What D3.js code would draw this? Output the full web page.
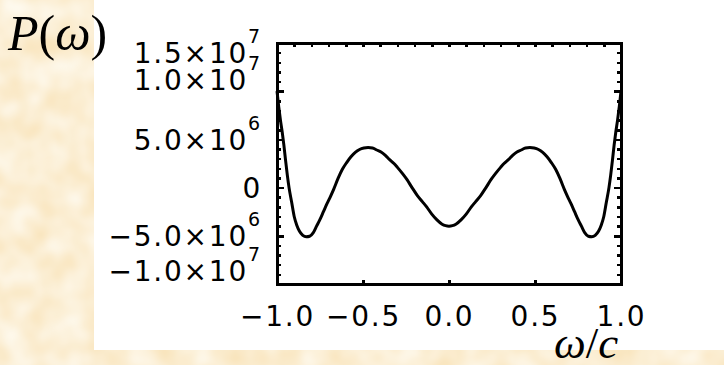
<!DOCTYPE html>
<html>
<head>
<meta charset="utf-8">
<script src="https://cdn.jsdelivr.net/npm/d3@7"></script>
<style>
  html, body { margin: 0; padding: 0; background: #fae8c4; }
  svg { display: block; }
  .tick-label { font-family: "DejaVu Sans", sans-serif; font-size: 28px; fill: #000; letter-spacing: 1.8px; }
  .title { font-family: "Liberation Serif", "Times New Roman", serif; fill: #000; }
</style>
</head>
<body>
<svg id="chart" width="724" height="365"></svg>
<script>
// P(omega), omega in units of c
const omega = [
  -1.000, -0.990, -0.980, -0.970, -0.960, -0.950, -0.940, -0.930, -0.915, -0.900,
  -0.885, -0.870, -0.850, -0.830, -0.810, -0.790, -0.770, -0.750, -0.730, -0.710,
  -0.690, -0.670, -0.645, -0.620, -0.595, -0.570, -0.545, -0.520, -0.495, -0.470,
  -0.445, -0.420, -0.395, -0.370, -0.345, -0.320, -0.300, -0.270, -0.245, -0.215,
  -0.185, -0.155, -0.130, -0.100, -0.070, -0.040, -0.020, 0.000,
  0.020, 0.040, 0.070, 0.100, 0.130, 0.155, 0.185, 0.215, 0.245, 0.270,
  0.300, 0.320, 0.345, 0.370, 0.395, 0.420, 0.445, 0.470, 0.495, 0.520,
  0.545, 0.570, 0.595, 0.620, 0.645, 0.670, 0.690, 0.710, 0.730, 0.750,
  0.770, 0.790, 0.810, 0.830, 0.850, 0.870, 0.885, 0.900, 0.915, 0.930,
  0.940, 0.950, 0.960, 0.970, 0.980, 0.990, 1.000
];
const power = [
  1.0e7, 8.4e6, 7.0e6, 5.8e6, 4.4e6, 2.8e6, 1.3e6, 0.0, -1.5e6, -3.0e6,
  -3.9e6, -4.5e6, -4.95e6, -5.1e6, -5.05e6, -4.7e6, -4.0e6, -3.3e6, -2.5e6, -1.7e6,
  -0.95e6, -0.15e6, 0.95e6, 1.9e6, 2.6e6, 3.2e6, 3.65e6, 3.95e6, 4.1e6, 4.15e6,
  4.1e6, 3.9e6, 3.7e6, 3.35e6, 2.9e6, 2.5e6, 2.1e6, 1.45e6, 0.85e6, 0.0,
  -0.8e6, -1.45e6, -2.0e6, -2.75e6, -3.35e6, -3.8e6, -3.95e6, -4.0e6,
  -3.95e6, -3.8e6, -3.35e6, -2.75e6, -2.0e6, -1.45e6, -0.8e6, 0.0, 0.85e6, 1.45e6,
  2.1e6, 2.5e6, 2.9e6, 3.35e6, 3.7e6, 3.9e6, 4.1e6, 4.15e6, 4.1e6, 3.95e6,
  3.65e6, 3.2e6, 2.6e6, 1.9e6, 0.95e6, -0.15e6, -0.95e6, -1.7e6, -2.5e6, -3.3e6,
  -4.0e6, -4.7e6, -5.05e6, -5.1e6, -4.95e6, -4.5e6, -3.9e6, -3.0e6, -1.5e6, 0.0,
  1.3e6, 2.8e6, 4.4e6, 5.8e6, 7.0e6, 8.4e6, 1.0e7
];

const xTicks = [-1, -0.5, 0, 0.5, 1];
const xTickLabels = ["\u22121.0", "\u22120.5", "0.0", "0.5", "1.0"];
const yTicks = [-1e7, -5e6, 0, 5e6, 1e7, 1.5e7];
const yTickMantissa = ["\u22121.0\u00d710", "\u22125.0\u00d710", "0", "5.0\u00d710", "1.0\u00d710", "1.5\u00d710"];
const yTickExponent = ["7", "6", "", "6", "7", "7"];

// label nudges (px) so the y labels sit where the original put them
const yLabelNudge = [-14, 0, 0, 0, -12, 9];

const svg = d3.select("#chart");

// parchment background
const defs = svg.append("defs");
const paper = defs.append("filter").attr("id", "paper")
  .attr("x", 0).attr("y", 0).attr("width", "100%").attr("height", "100%");
paper.append("feTurbulence")
  .attr("type", "fractalNoise")
  .attr("baseFrequency", "0.035")
  .attr("numOctaves", 2)
  .attr("seed", 5);
paper.append("feColorMatrix")
  .attr("type", "matrix")
  .attr("values", "0 0 0 0 1  0 0 0 0 0.98  0 0 0 0 0.92  1.2 0 0 0 -0.2");

svg.append("rect").attr("width", 724).attr("height", 365).attr("fill", "#f9e5be");
svg.append("rect").attr("width", 724).attr("height", 365).attr("filter", "url(#paper)");

// white plot panel
svg.append("rect")
  .attr("x", 94).attr("y", 0)
  .attr("width", 630).attr("height", 350)
  .attr("fill", "#fff");

const plotLeft = 277, plotRight = 621, plotTop = 43, plotBottom = 284;

const x = d3.scaleLinear().domain([-1, 1]).range([plotLeft, plotRight]);
const y = d3.scaleLinear().domain([-1e7, 1.5e7]).range([plotBottom, plotTop]);

const yMinor = d3.range(-10, 16).map(d => d * 1e6);
const yMajor = [-1e7, -5e6, 0, 5e6, 1e7, 1.5e7];
const xMinor = d3.range(-10, 11).map(d => d / 10);

function styleTicks(g) {
  g.select(".domain").remove();
  g.selectAll(".tick line")
    .attr("stroke", "#000")
    .attr("stroke-width", 2.5)
    .attr("shape-rendering", "crispEdges");
  g.selectAll(".tick text").remove();
}

// left / right ticks
svg.append("g").attr("transform", `translate(${plotLeft},0)`)
  .call(d3.axisLeft(y).tickValues(yMinor).tickSize(-4)).call(styleTicks);
svg.append("g").attr("transform", `translate(${plotLeft},0)`)
  .call(d3.axisLeft(y).tickValues(yMajor).tickSize(-7)).call(styleTicks);
svg.append("g").attr("transform", `translate(${plotRight},0)`)
  .call(d3.axisRight(y).tickValues(yMinor).tickSize(-4)).call(styleTicks);
svg.append("g").attr("transform", `translate(${plotRight},0)`)
  .call(d3.axisRight(y).tickValues(yMajor).tickSize(-7)).call(styleTicks);

// top / bottom ticks
svg.append("g").attr("transform", `translate(0,${plotTop})`)
  .call(d3.axisTop(x).tickValues(xMinor).tickSize(-4)).call(styleTicks);
svg.append("g").attr("transform", `translate(0,${plotBottom})`)
  .call(d3.axisBottom(x).tickValues([-0.5, 0, 0.5]).tickSize(-4)).call(styleTicks);

// frame
svg.append("rect")
  .attr("x", plotLeft).attr("y", plotTop)
  .attr("width", plotRight - plotLeft).attr("height", plotBottom - plotTop)
  .attr("fill", "none")
  .attr("stroke", "#000")
  .attr("stroke-width", 3)
  .attr("shape-rendering", "crispEdges");

// curve
const pts = omega.map((w, i) => ({ w: w, p: power[i] }));
const line = d3.line()
  .x(d => x(d.w))
  .y(d => y(d.p))
  .curve(d3.curveMonotoneX);

svg.append("path")
  .datum(pts)
  .attr("d", line)
  .attr("fill", "none")
  .attr("stroke", "#000")
  .attr("stroke-width", 3)
  .attr("stroke-linejoin", "round");

// x tick labels
const xLab = svg.append("g").attr("transform", `translate(0,${plotBottom})`)
  .call(d3.axisBottom(x).tickValues(xTicks).tickSize(0).tickFormat((d, i) => xTickLabels[i]));
xLab.select(".domain").remove();
xLab.attr("font-family", null).attr("font-size", null);
xLab.selectAll(".tick text")
  .attr("class", "tick-label")
  .attr("fill", "#000")
  .attr("dy", null)
  .attr("y", 42);

// y tick labels with superscript exponents
const yLab = svg.append("g").attr("transform", `translate(${plotLeft},0)`)
  .call(d3.axisLeft(y).tickValues(yTicks).tickSize(0).tickFormat(""));
yLab.select(".domain").remove();
yLab.attr("font-family", null).attr("font-size", null);
yLab.selectAll(".tick text").each(function(d, i) {
  const t = d3.select(this)
    .attr("class", "tick-label")
    .attr("fill", "#000")
    .attr("x", -15)
    .attr("dy", null)
    .attr("y", 10 + yLabelNudge[i])
    .text(null);
  t.append("tspan").text(yTickMantissa[i]);
  if (yTickExponent[i]) {
    t.append("tspan").attr("dy", -20).attr("font-size", 19).text(yTickExponent[i]);
  }
});

// axis titles
const yTitle = svg.append("text").attr("class", "title")
  .attr("x", 8).attr("y", 50).attr("font-size", 50);
yTitle.append("tspan").attr("font-style", "italic").text("P");
yTitle.append("tspan").text("(");
yTitle.append("tspan").attr("font-style", "italic").text("\u03c9");
yTitle.append("tspan").text(")");

const xTitle = svg.append("text").attr("class", "title")
  .attr("x", 554).attr("y", 358).attr("font-size", 45).attr("font-style", "italic");
xTitle.append("tspan").text("\u03c9");
xTitle.append("tspan").attr("font-style", "normal").text("/");
xTitle.append("tspan").text("c");
</script>
</body>
</html>
